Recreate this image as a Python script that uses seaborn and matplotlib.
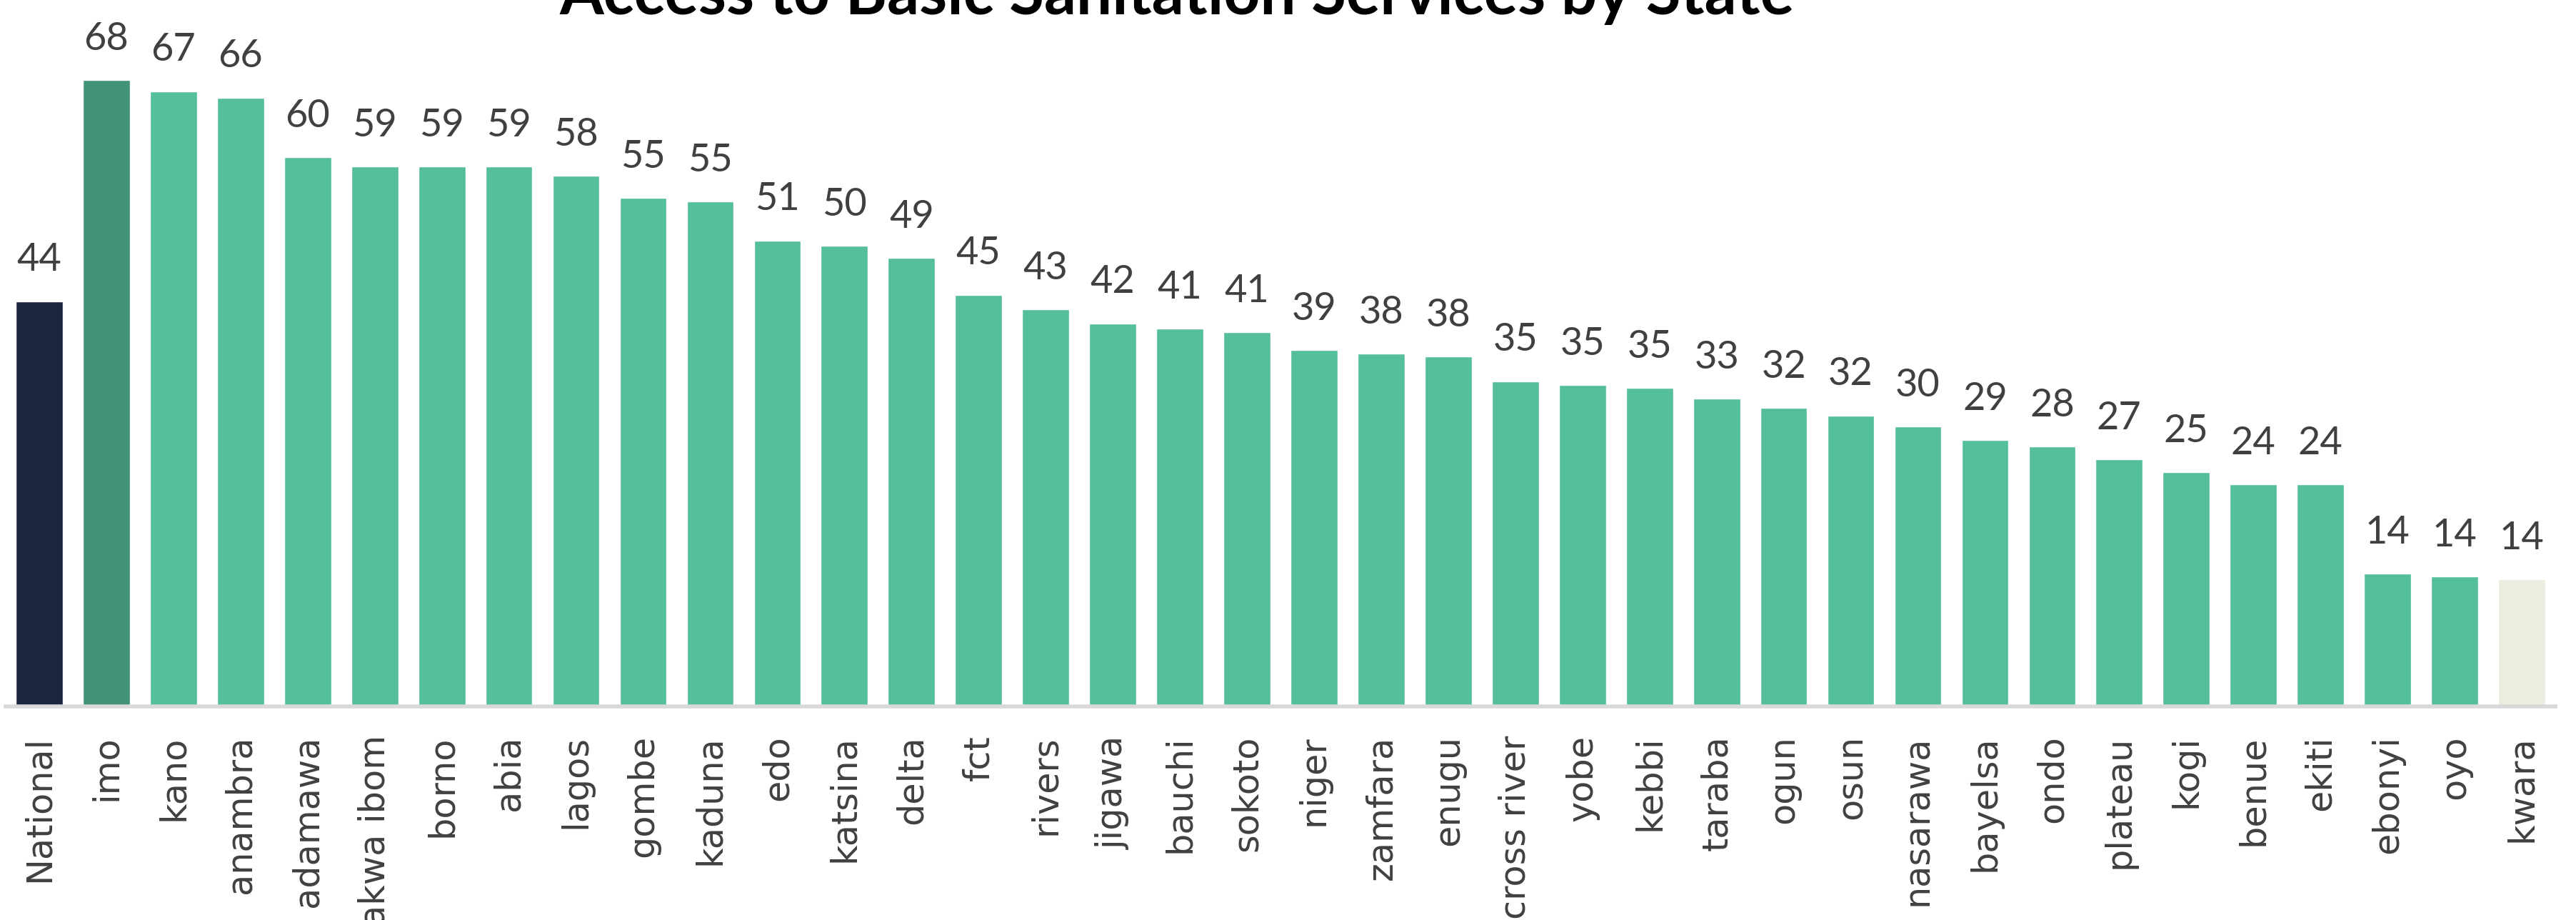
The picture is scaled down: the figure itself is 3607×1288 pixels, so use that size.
import matplotlib
matplotlib.use("Agg")
import matplotlib.pyplot as plt
import seaborn as sns

# ==============================================================================
# DADOS
# ==============================================================================
estados = [
    "National", "imo", "kano", "anambra", "adamawa", "akwa ibom", "borno", "abia",
    "lagos", "gombe", "kaduna", "edo", "katsina", "delta", "fct", "rivers",
    "jigawa", "bauchi", "sokoto", "niger", "zamfara", "enugu", "cross river",
    "yobe", "kebbi", "taraba", "ogun", "osun", "nasarawa", "bayelsa", "ondo",
    "plateau", "kogi", "benue", "ekiti", "ebonyi", "oyo", "kwara",
]
acesso = [
    44.0, 68.0, 66.8, 66.1, 59.6, 58.6, 58.6, 58.6,
    57.6, 55.2, 54.8, 50.6, 50.0, 48.7, 44.7, 43.1,
    41.6, 41.0, 40.6, 38.7, 38.3, 38.0, 35.3,
    34.9, 34.6, 33.4, 32.4, 31.6, 30.4, 28.9, 28.2,
    26.8, 25.4, 24.1, 24.1, 14.4, 14.1, 13.8,
]
titulo = "Access to Basic Sanitation Services by State"

# ==============================================================================
# ESTILO
# ==============================================================================
COR_NACIONAL = "#1B2641"
COR_TOPO = "#42927A"
COR_PADRAO = "#55BE9C"
COR_ULTIMO = "#EAEEDF"
COR_TEXTO = "#404040"


def cores_barras(n):
    cores = [COR_PADRAO] * n
    cores[0] = COR_NACIONAL
    cores[1] = COR_TOPO
    cores[-1] = COR_ULTIMO
    return cores


def plotar():
    sns.set_theme(style="white")
    plt.rcParams["font.family"] = ["DejaVu Sans"]

    fig = plt.figure(figsize=(36.07, 12.88), dpi=100)
    ax = fig.add_axes([8 / 3607, 299 / 1288, 3570 / 3607, 989 / 1288])

    sns.barplot(x=estados, y=acesso, hue=estados, palette=cores_barras(len(estados)),
                legend=False, width=0.7, saturation=1, ax=ax)

    for cont in ax.containers:
        ax.bar_label(cont, fmt="%.0f", padding=24, fontsize=39,
                     color=COR_TEXTO, family=["Lato", "DejaVu Sans"])

    ax.set_ylim(0, 76.7)
    ax.set_xlim(-0.5, len(estados) - 0.5)
    ax.set_yticks([])
    ax.set_ylabel("")
    ax.set_xlabel("")
    for lado in ["top", "right", "left"]:
        ax.spines[lado].set_visible(False)
    ax.spines["bottom"].set_color("#D9D9D9")
    ax.spines["bottom"].set_linewidth(4)

    ax.tick_params(axis="x", length=0, pad=29, labelsize=35.5, labelcolor=COR_TEXTO)
    plt.setp(ax.get_xticklabels(), rotation=90)

    fig.text(0.457, 1 - 20 / 1288, titulo, ha="center", va="baseline",
             fontsize=64, fontweight="bold", color="black",
             family=["Lato", "DejaVu Sans"])

    fig.savefig("out.png", dpi=100)


if __name__ == "__main__":
    plotar()
